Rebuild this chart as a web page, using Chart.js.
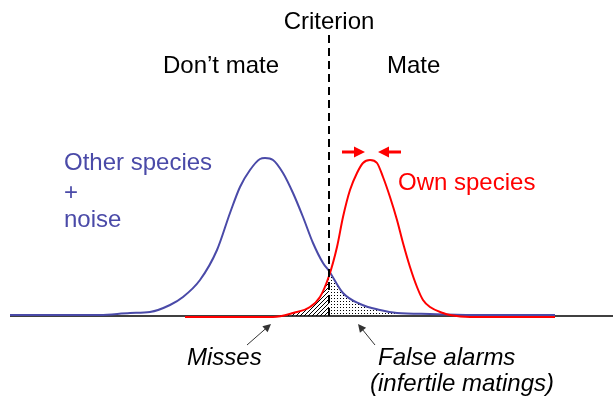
<!DOCTYPE html>
<html>
<head>
<meta charset="utf-8">
<script src="https://cdn.jsdelivr.net/npm/chart.js@4"></script>
<style>
  html, body { margin: 0; padding: 0; background: #fff; }
</style>
</head>
<body>
<canvas id="sdt" width="613" height="402"></canvas>
<script>
// Other species + noise (blue) - x position and height above baseline
const blueX = [10, 100, 130, 150, 170, 183, 200, 217, 230, 240, 250, 260, 265, 273, 283, 293, 303, 313, 323, 329, 343, 360, 380, 397, 430, 480, 555];
const blueY = [1, 1, 3, 4, 11, 19, 36, 66, 103, 129, 146, 157, 158, 156, 143, 123, 99, 73, 53, 45, 23, 12, 6, 3, 2, 1, 1];

// Own species (red)
const redX = [185, 273, 293, 310, 320, 329, 337, 343, 350, 357, 363, 370, 377, 383, 390, 397, 403, 410, 417, 423, 430, 443, 450, 470, 555];
const redY = [-1, -1, 3, 9, 19, 40, 69, 99, 126, 143, 153, 156, 153, 139, 119, 96, 73, 49, 29, 16, 9, 3, 1, -1, -1];

const criterion = 329;
const baselineX = [10, 613];

(() => {
    const canvas = document.getElementById('sdt');
    const ctx = canvas.getContext('2d');
    const blue = '#4a4aa8';
    const red = '#ff0000';
    const font = '"Liberation Sans", Arial, sans-serif';

    const pts = (xs, ys) => xs.map((x, i) => ({ x: x, y: ys[i] }));

    // hatch and stipple patterns for the shaded areas
    const makeHatch = () => {
        const c = document.createElement('canvas');
        c.width = 4; c.height = 4;
        const g = c.getContext('2d');
        g.strokeStyle = '#000';
        g.lineWidth = 1;
        g.beginPath();
        g.moveTo(-1, 5); g.lineTo(5, -1);
        g.stroke();
        return ctx.createPattern(c, 'repeat');
    };
    const makeDots = () => {
        const c = document.createElement('canvas');
        c.width = 3; c.height = 3;
        const g = c.getContext('2d');
        g.fillStyle = '#000';
        g.fillRect(1, 1, 1, 1);
        return ctx.createPattern(c, 'repeat');
    };

    const misses = pts(redX, redY).filter(p => p.x >= 273 && p.x <= criterion);
    const falseAlarms = pts(blueX, blueY).filter(p => p.x >= criterion && p.x <= 430);

    const arrow = (c, x1, y1, x2, y2, color, head, width) => {
        const a = Math.atan2(y2 - y1, x2 - x1);
        c.strokeStyle = color;
        c.fillStyle = color;
        c.lineWidth = width;
        c.beginPath();
        c.moveTo(x1, y1);
        c.lineTo(x2 - Math.cos(a) * head * 0.8, y2 - Math.sin(a) * head * 0.8);
        c.stroke();
        c.beginPath();
        c.moveTo(x2, y2);
        c.lineTo(x2 - Math.cos(a) * head + Math.sin(a) * head * 0.5, y2 - Math.sin(a) * head - Math.cos(a) * head * 0.5);
        c.lineTo(x2 - Math.cos(a) * head - Math.sin(a) * head * 0.5, y2 - Math.sin(a) * head + Math.cos(a) * head * 0.5);
        c.closePath();
        c.fill();
    };

    const labels = {
        id: 'labels',
        afterDatasetsDraw(chart) {
            const c = chart.ctx;
            const sx = chart.scales.x, sy = chart.scales.y;
            const X = v => sx.getPixelForValue(v);
            const Y = v => sy.getPixelForValue(v);
            c.save();

            // criterion
            c.strokeStyle = '#000';
            c.lineWidth = 2;
            c.setLineDash([8, 5]);
            c.beginPath();
            c.moveTo(X(criterion), Y(281));
            c.lineTo(X(criterion), Y(0));
            c.stroke();
            c.setLineDash([]);

            c.textBaseline = 'alphabetic';
            c.fillStyle = '#000';
            c.font = '24px ' + font;
            c.textAlign = 'center';
            c.fillText('Criterion', X(criterion), 29);
            c.textAlign = 'left';
            c.fillText('Don\u2019t mate', 163, 73);
            c.fillText('Mate', 387, 73);

            c.fillStyle = blue;
            c.fillText('Other species', 64, 170);
            c.fillText('+', 64, 200);
            c.fillText('noise', 64, 227);

            c.fillStyle = red;
            c.fillText('Own species', 398, 190);

            c.fillStyle = '#000';
            c.font = 'italic 24px ' + font;
            c.fillText('Misses', 187, 365);
            c.fillText('False alarms', 378, 365);
            c.fillText('(infertile matings)', 370, 391);

            // width arrows over the red peak
            arrow(c, 342, 152, 365, 152, red, 11, 3);
            arrow(c, 401, 152, 378, 152, red, 11, 3);

            // pointers to shaded areas
            arrow(c, 247, 345, 271, 324, '#333', 8, 1);
            arrow(c, 375, 345, 358, 324, '#333', 8, 1);

            c.restore();
        }
    };

    new Chart(ctx, {
        type: 'line',
        data: {
            datasets: [
                {
                    data: pts(blueX, blueY),
                    borderColor: blue,
                    borderWidth: 2,
                    pointRadius: 0,
                    fill: false,
                    cubicInterpolationMode: 'monotone',
                    order: 1
                },
                {
                    data: pts(redX, redY),
                    borderColor: red,
                    borderWidth: 2,
                    pointRadius: 0,
                    fill: false,
                    cubicInterpolationMode: 'monotone',
                    order: 0
                },
                {
                    data: baselineX.map(x => ({ x: x, y: 0 })),
                    borderColor: '#000',
                    borderWidth: 1.5,
                    pointRadius: 0,
                    fill: false,
                    order: 2
                },
                {
                    data: misses,
                    borderWidth: 0,
                    borderColor: 'rgba(0,0,0,0)',
                    backgroundColor: makeHatch(),
                    pointRadius: 0,
                    fill: 'origin',
                    cubicInterpolationMode: 'monotone',
                    order: 3
                },
                {
                    data: falseAlarms,
                    borderWidth: 0,
                    borderColor: 'rgba(0,0,0,0)',
                    backgroundColor: makeDots(),
                    pointRadius: 0,
                    fill: 'origin',
                    cubicInterpolationMode: 'monotone',
                    order: 3
                }
            ]
        },
        options: {
            responsive: false,
            animation: false,
            layout: { padding: 0 },
            plugins: {
                legend: { display: false },
                tooltip: { enabled: false }
            },
            scales: {
                x: { type: 'linear', min: 0, max: 613, display: false },
                y: { type: 'linear', min: -86, max: 316, display: false }
            }
        },
        plugins: [labels]
    });
})();
</script>
</body>
</html>
